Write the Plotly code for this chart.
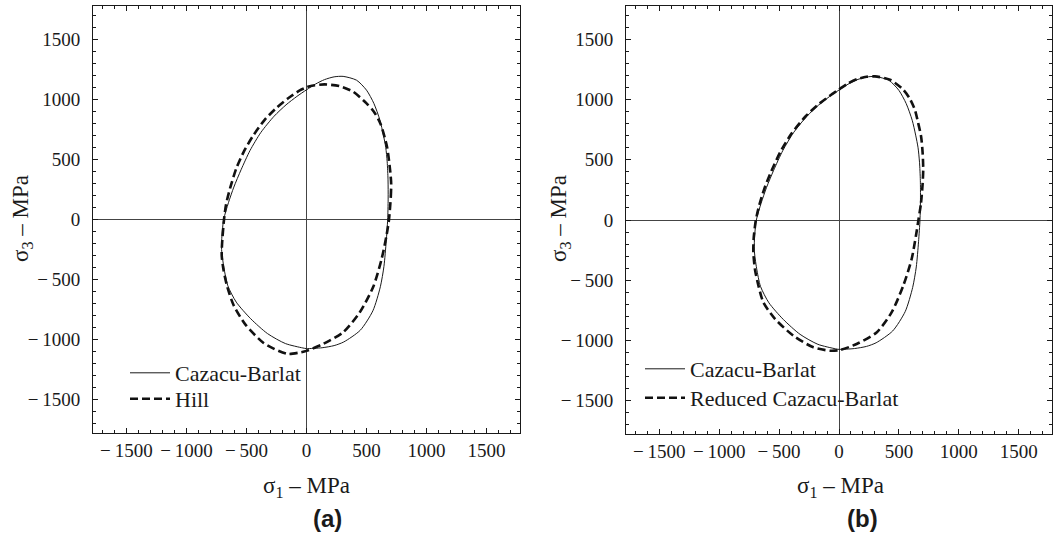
import plotly.graph_objects as go

# ---------------- data (MPa) ----------------
# Cazacu-Barlat yield locus (solid line, both panels)
cb_s1 = [676, 680, 679, 672, 660, 640, 611, 561, 500, 417, 305, 230, 150, 75, 0,
         -80, -170, -270, -380, -470, -545, -605, -650, -690, -704, -707, -688, -655, -585,
         -465, -325, -176, -30, 0, 130, 230, 310, 448, 553, 615, 645, 664, 676]
cb_s3 = [0, 170, 330, 480, 600, 705, 829, 967, 1077, 1160, 1192, 1188, 1165, 1128, 1080,
         1025, 955, 860, 725, 575, 414, 270, 140, 0, -130, -250, -400, -552, -688,
         -826, -950, -1033, -1070, -1075, -1068, -1050, -1020, -922, -760, -560, -390, -180, 0]

# Hill yield locus (dashed, panel a)
hill_s1 = [687, 702, 705, 696, 670, 615, 560, 500, 389, 278, 150, 28, 0, -56, -150,
           -250, -350, -440, -520, -585, -635, -670, -687, -703, -706, -692, -660, -605,
           -505, -355, -230, -150, -60, 0, 139, 306, 444, 556, 625, 667, 687]
hill_s3 = [0, 190, 300, 414, 608, 800, 900, 967, 1064, 1110, 1125, 1110, 1100, 1075, 1012,
           930, 828, 705, 570, 425, 265, 125, 0, -200, -300, -414, -560, -718,
           -880, -1030, -1095, -1120, -1108, -1094, -1036, -939, -773, -560, -331, -130, 0]

# Reduced Cazacu-Barlat yield locus (dashed, panel b)
rcb_s1 = [663, 685, 698, 703, 698, 685, 660, 633, 590, 536, 425, 300, 230, 150, 75, 0,
          -80, -170, -280, -395, -490, -565, -625, -665, -694, -712, -715, -700, -672, -631,
          -533, -381, -214, -75, 8, 147, 314, 439, 536, 606, 642, 663]
rcb_s3 = [0, 144, 300, 420, 560, 696, 810, 917, 1010, 1083, 1166, 1193, 1190, 1170, 1135, 1085,
          1030, 962, 860, 720, 565, 405, 255, 125, 0, -150, -271, -420, -547, -685,
          -823, -961, -1058, -1086, -1080, -1030, -934, -768, -547, -326, -133, 0]

tick_vals = [-1500, -1000, -500, 0, 500, 1000, 1500]
tick_text = ["\u2212\u20091500", "\u2212\u20091000", "\u2212\u2009500", "0", "500", "1000", "1500"]

axis_title_x = "\u03c3<sub>1</sub> \u2013 MPa"
axis_title_y = "\u03c3<sub>3</sub> \u2013 MPa"

# ---------------- figure ----------------
W, H = 1053, 537
SERIF = "Liberation Serif, Times New Roman, serif"
SANS = "Liberation Sans, Arial, sans-serif"
INK = "#1a1a1a"

fig = go.Figure()

solid = dict(color=INK, width=1, shape="spline", smoothing=0.7)
dashed = dict(color="#111111", width=2.6, dash="8px,4px", shape="spline", smoothing=0.7)

fig.add_trace(go.Scatter(x=cb_s1, y=cb_s3, mode="lines", line=solid,
                         name="Cazacu-Barlat", xaxis="x", yaxis="y", legend="legend"))
fig.add_trace(go.Scatter(x=hill_s1, y=hill_s3, mode="lines", line=dashed,
                         name="Hill", xaxis="x", yaxis="y", legend="legend2"))
fig.add_trace(go.Scatter(x=cb_s1, y=cb_s3, mode="lines", line=solid,
                         name="Cazacu-Barlat", xaxis="x2", yaxis="y2", legend="legend3"))
fig.add_trace(go.Scatter(x=rcb_s1, y=rcb_s3, mode="lines", line=dashed,
                         name="Reduced Cazacu-Barlat", xaxis="x2", yaxis="y2", legend="legend4"))

R = 1778
ax_common = dict(
    range=[-R, R], tickmode="array", tickvals=tick_vals, ticktext=tick_text,
    ticks="inside", ticklen=5, tickwidth=1, tickcolor=INK,
    showline=True, linecolor=INK, linewidth=1, mirror="allticks",
    showgrid=False, zeroline=True, zerolinecolor="#444444", zerolinewidth=1.2,
    minor=dict(ticks="inside", ticklen=3, tickwidth=1, tickcolor=INK,
               tickmode="linear", tick0=0, dtick=100, showgrid=False),
    tickfont=dict(family=SERIF, size=19, color=INK),
    fixedrange=True,
)
xax = dict(ax_common, ticklabelstandoff=0)
yax = dict(ax_common, ticklabelstandoff=8)


def px_x(p):
    return p / W


def px_y(p):
    return 1 - p / H


def legend_at(x, y):
    return dict(x=px_x(x), y=px_y(y), xanchor="left", yanchor="middle",
                bgcolor="rgba(0,0,0,0)", borderwidth=0, itemwidth=40,
                font=dict(family=SERIF, size=22, color=INK))


fig.update_layout(
    width=W, height=H,
    margin=dict(l=0, r=0, t=0, b=0),
    paper_bgcolor="white", plot_bgcolor="white",
    xaxis=dict(xax, domain=[px_x(93), px_x(520)], anchor="y"),
    yaxis=dict(yax, domain=[px_y(433), px_y(6)], anchor="x"),
    xaxis2=dict(xax, domain=[px_x(626), px_x(1052)], anchor="y2"),
    yaxis2=dict(yax, domain=[px_y(434), px_y(6)], anchor="x2"),
    legend=legend_at(125, 373),
    legend2=legend_at(125, 399),
    legend3=legend_at(640, 369),
    legend4=legend_at(640, 398),
    showlegend=True,
)

annos = [
    dict(text=axis_title_x, x=px_x(306), y=px_y(487), font=dict(family=SERIF, size=23, color=INK)),
    dict(text=axis_title_y, x=px_x(22), y=px_y(219), textangle=-90, font=dict(family=SERIF, size=23, color=INK)),
    dict(text="<b>(a)</b>", x=px_x(327), y=px_y(518), font=dict(family=SANS, size=24, color=INK)),
    dict(text=axis_title_x, x=px_x(840), y=px_y(487), font=dict(family=SERIF, size=23, color=INK)),
    dict(text=axis_title_y, x=px_x(560), y=px_y(219), textangle=-90, font=dict(family=SERIF, size=23, color=INK)),
    dict(text="<b>(b)</b>", x=px_x(862), y=px_y(518), font=dict(family=SANS, size=24, color=INK)),
]
for a in annos:
    a.update(xref="paper", yref="paper", xanchor="center", yanchor="middle", showarrow=False)
    fig.add_annotation(**a)

fig.write_html("out.html", config={"displayModeBar": False},
               post_script="document.body.style.margin='0px';")
